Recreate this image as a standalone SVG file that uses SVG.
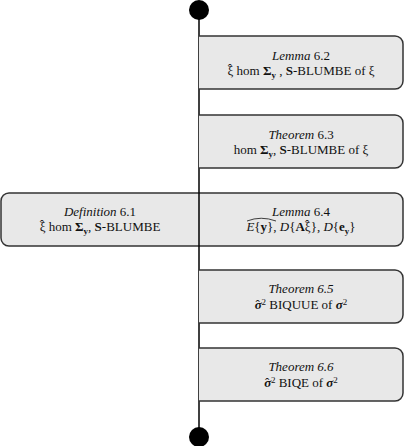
<svg xmlns="http://www.w3.org/2000/svg" width="406" height="446" viewBox="0 0 406 446">
<style>
.box{fill:#e8e8e8;stroke:#333;stroke-width:1.5}
.t{font-family:"Liberation Serif","DejaVu Serif",serif;font-size:13px;fill:#111;text-anchor:middle}
.i{font-style:italic}
.b{font-weight:bold}
.line{stroke:#000;stroke-width:1.5;fill:none}
.hat{fill:none;stroke:#111;stroke-width:0.8}
</style>
<rect width="406" height="446" fill="#fff"/>
<g id="n-def61">
<path class="box" d="M199,193 H9 A8,8 0 0 0 1,201 V238 A8,8 0 0 0 9,246 H199"/>
<text class="t" x="100" y="216"><tspan class="i">Definition</tspan> 6.1</text>
<text class="t" x="100" y="231">ξ<tspan dx="-5.6" dy="-2.5">ˆ</tspan><tspan dx="1.3" dy="2.5"> hom </tspan><tspan class="b">Σ</tspan><tspan class="b" font-size="9" dy="3">y</tspan><tspan dy="-3">, </tspan><tspan class="b">S</tspan>-BLUMBE</text>
</g>
<g id="n-lem64">
<path class="box" d="M199,193 H395 A8,8 0 0 1 403,201 V238 A8,8 0 0 1 395,246 H199"/>
<text class="t" x="301" y="216"><tspan class="i">Lemma</tspan> 6.4</text>
<text class="t" x="301" y="231"><tspan class="i">E</tspan>{<tspan class="b">y</tspan>}, <tspan class="i">D</tspan>{<tspan class="b">A</tspan>ξ<tspan dx="-5.6" dy="-2.5">ˆ</tspan><tspan dx="1.3" dy="2.5">}, </tspan><tspan class="i">D</tspan>{<tspan class="b">e</tspan><tspan class="b" font-size="9" dy="3">y</tspan><tspan dy="-3">}</tspan></text>
<path class="hat" d="M247,221 Q261,215.5 276,221"/>
</g>
<g id="connectors">
<line class="line" x1="199" y1="10" x2="199" y2="437"/>
<circle cx="199" cy="10" r="10" fill="#000"/>
<circle cx="199" cy="437" r="10" fill="#000"/>
</g>
<g id="n-lem62">
<path class="box" d="M199,36 H395 A8,8 0 0 1 403,44 V81 A8,8 0 0 1 395,89 H199"/>
<text class="t" x="301" y="60"><tspan class="i">Lemma</tspan> 6.2</text>
<text class="t" x="301" y="75">ξ<tspan dx="-5.6" dy="-2.5">ˆ</tspan><tspan dx="1.3" dy="2.5"> hom </tspan><tspan class="b">Σ</tspan><tspan class="b" font-size="9" dy="3">y</tspan><tspan dy="-3"> , </tspan><tspan class="b">S</tspan>-BLUMBE of ξ</text>
</g>
<g id="n-thm63">
<path class="box" d="M199,115 H395 A8,8 0 0 1 403,123 V160 A8,8 0 0 1 395,168 H199"/>
<text class="t" x="301" y="139"><tspan class="i">Theorem</tspan> 6.3</text>
<text class="t" x="301" y="154">hom <tspan class="b">Σ</tspan><tspan class="b" font-size="9" dy="3">y</tspan><tspan dy="-3">, </tspan><tspan class="b">S</tspan>-BLUMBE of ξ</text>
</g>
<g id="n-thm65">
<path class="box" d="M199,270 H395 A8,8 0 0 1 403,278 V315 A8,8 0 0 1 395,323 H199"/>
<text class="t" x="301" y="293"><tspan class="i">Theorem 6.5</tspan></text>
<text class="t" x="301" y="309"><tspan class="i b">σ</tspan><tspan dx="-6.2" dy="-0.5">ˆ</tspan><tspan font-size="9" dx="1.6" dy="-4">2</tspan><tspan dy="4.5"> BIQUUE of </tspan><tspan class="i b">σ</tspan><tspan font-size="9" dy="-4">2</tspan></text>
</g>
<g id="n-thm66">
<path class="box" d="M199,348 H395 A8,8 0 0 1 403,356 V393 A8,8 0 0 1 395,401 H199"/>
<text class="t" x="301" y="371"><tspan class="i">Theorem 6.6</tspan></text>
<text class="t" x="301" y="387"><tspan class="i b">σ</tspan><tspan dx="-6.2" dy="-0.5">ˆ</tspan><tspan font-size="9" dx="1.6" dy="-4">2</tspan><tspan dy="4.5"> BIQE of </tspan><tspan class="i b">σ</tspan><tspan font-size="9" dy="-4">2</tspan></text>
</g>
</svg>
